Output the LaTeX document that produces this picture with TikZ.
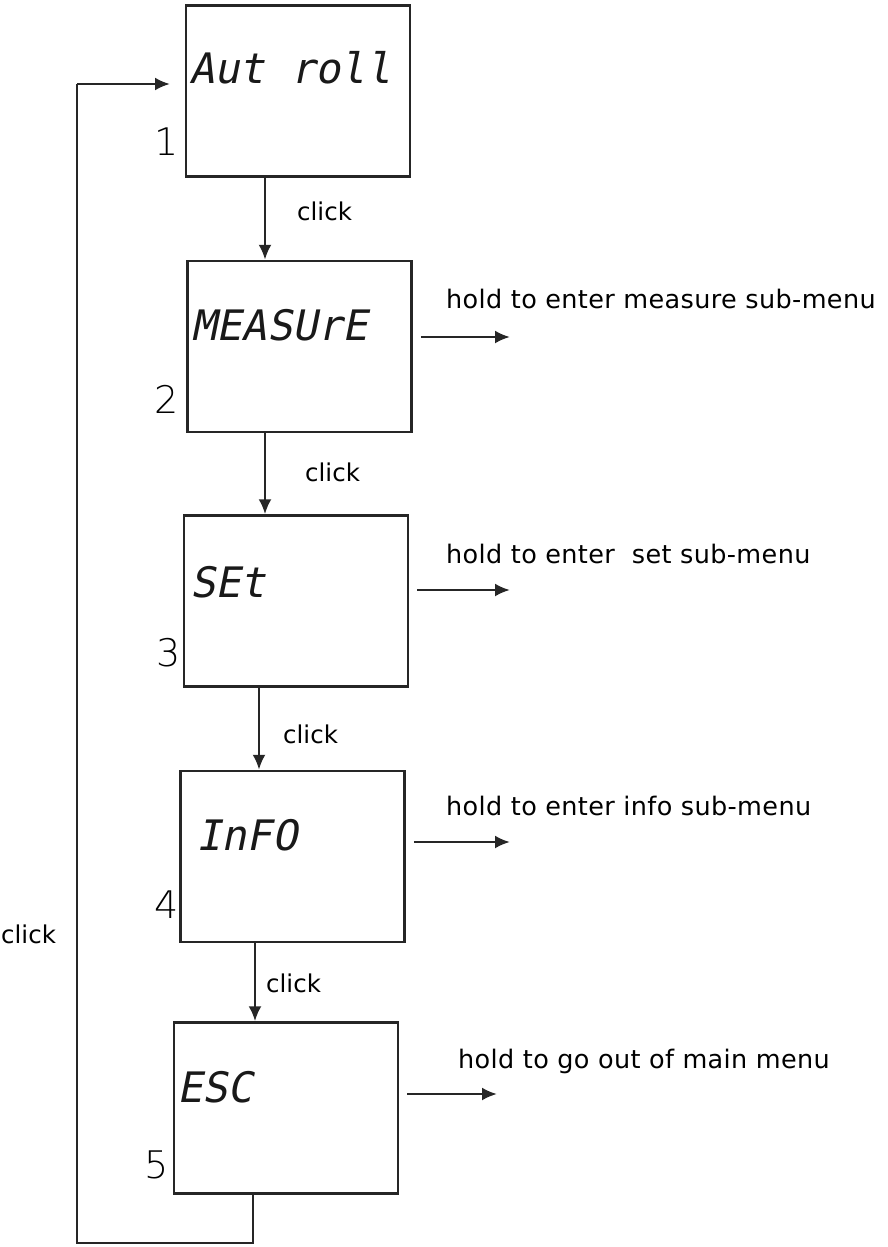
\documentclass[tikz,border=0pt]{standalone}
\usepackage{fontspec}
\setmainfont{DejaVu Sans}
\newfontfamily\segfont{DejaVu Sans Mono}[FakeSlant=0.2]
\newfontfamily\numfont{DejaVu Sans ExtraLight}
\newfontfamily\lblfont{DejaVu Sans}[LetterSpace=1.5]
\usetikzlibrary{arrows.meta}
\tikzset{
  screen/.style={draw=black!85, line width=2.5pt, minimum width=224pt, minimum height=171pt, inner sep=0pt},
  disp/.style={anchor=base west, inner sep=0pt, text=black!90, font=\segfont\fontsize{42}{42}\selectfont},
  num/.style={anchor=base east, inner sep=0pt, font=\numfont\fontsize{38}{38}\selectfont},
  clk/.style={anchor=base west, inner sep=0pt, font=\fontsize{24.5}{24.5}\selectfont},
  lbl/.style={anchor=base west, inner sep=0pt, font=\lblfont\fontsize{25.5}{25.5}\selectfont},
  link/.style={draw=black!85, line width=2.5pt, -{Latex[length=15pt,width=13pt]}},
  wire/.style={draw=black!85, line width=2.5pt}
}
\begin{document}
\begin{tikzpicture}[x=1pt,y=-1pt]
\useasboundingbox (0,0) rectangle (887,1247);
% screens
\node[screen] (b1) at (298,91) {};
\node[screen] (b2) at (299.5,346.5) {};
\node[screen] (b3) at (296,601) {};
\node[screen] (b4) at (292.5,856.5) {};
\node[screen] (b5) at (286,1108) {};
% display texts
\node[disp] (t1) at (189,83) {Aut roll};
\node[disp] (t2) at (191,340) {MEASUrE};
\node[disp] (t3) at (190,597) {SEt};
\node[disp] (t4) at (196,850) {InFO};
\node[disp] (t5) at (177,1102) {ESC};
% numbers
\node[num] (n1) at (179,155) {1};
\node[num] (n2) at (179,413) {2};
\node[num] (n3) at (181,666) {3};
\node[num] (n4) at (179,918) {4};
\node[num] (n5) at (169,1178) {5};
% down arrows
\draw[link] (b1.south -| 265,0) -- (b2.north -| 265,0);
\draw[link] (b2.south -| 265,0) -- (b3.north -| 265,0);
\draw[link] (b3.south -| 259,0) -- (b4.north -| 259,0);
\draw[link] (b4.south -| 255,0) -- (b5.north -| 255,0);
\node[clk] (c1) at (297,220) {click};
\node[clk] (c2) at (305,481) {click};
\node[clk] (c3) at (283,743) {click};
\node[clk] (c4) at (266,992) {click};
% loop back
\coordinate (l1) at (77,1243);
\coordinate (l2) at (77,84);
\coordinate (l3) at (170,84);
\draw[wire] (b5.south -| 253,0) |- (l1) -- (l2);
\draw[link] (l2) -- (l3);
\node[clk] (c5) at (1,943) {click};
% hold arrows
\coordinate (h2) at (510,337);
\coordinate (h3) at (510,590);
\coordinate (h4) at (510,842);
\coordinate (h5) at (497,1094);
\draw[link] ([xshift=8pt]b2.east |- h2) -- (h2);
\draw[link] ([xshift=8pt]b3.east |- h3) -- (h3);
\draw[link] ([xshift=8pt]b4.east |- h4) -- (h4);
\draw[link] ([xshift=8pt]b5.east |- h5) -- (h5);
\node[lbl] (d2) at (446,308) {hold to enter measure sub-menu};
\node[lbl] (d3) at (446,563) {hold to enter \ set sub-menu};
\node[lbl] (d4) at (446,815) {hold to enter info sub-menu};
\node[lbl] (d5) at (458,1068) {hold to go out of main menu};
\end{tikzpicture}
\end{document}
